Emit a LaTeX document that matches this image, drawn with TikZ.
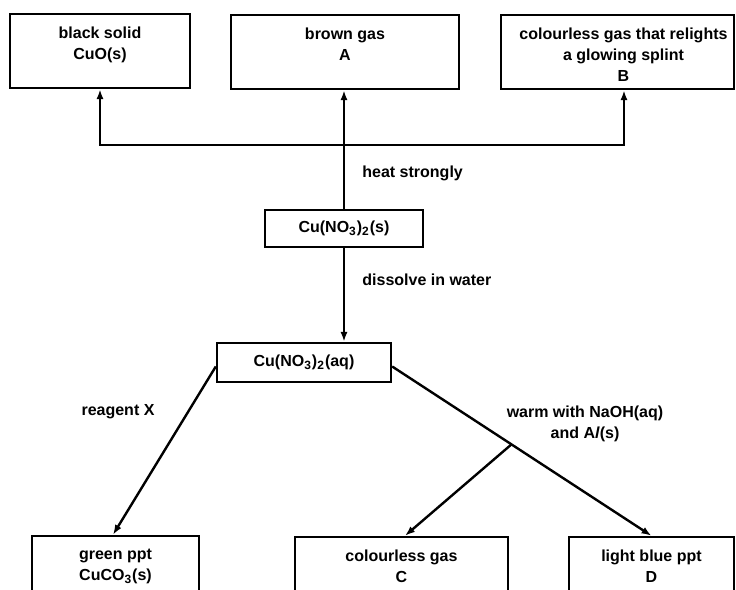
\documentclass[tikz,border=0pt]{standalone}
\usepackage{fontspec}
\setmainfont{Liberation Sans}
\usetikzlibrary{arrows.meta,positioning}

\tikzset{
	box/.style = {draw, line width=1.2pt, inner sep=0pt},
	txt/.style = {align=center, inner sep=0pt, font=\fontsize{8}{10.5}\selectfont\bfseries},
	flow/.style = {line width=1.2pt, -{Latex[length=5pt,width=3.6pt]}},
}

\begin{document}
\begin{tikzpicture}[x=0.5pt, y=-0.5pt]
	\useasboundingbox (0,0) rectangle (736,590);
	\clip (0,0) rectangle (736,590);
	% top row
	\node [box, minimum width=90pt, minimum height=37pt] (cuo) at (100,51) {};
	\node [box, minimum width=114pt, minimum height=37pt] (gasA) at (345,52) {};
	\node [box, minimum width=116.5pt, minimum height=37pt] (gasB) at (617.5,52) {};
	\node [txt, below = 7pt of cuo.north] (cuotxt) {black solid\\CuO(s)};
	\node [txt, below = 7pt of gasA.north] (gasAtxt) {brown gas\\A};
	\node [txt, below = 7pt of gasB.north, xshift=3pt] (gasBtxt) {colourless gas that relights\\a glowing splint\\B};
	% middle
	\node [box, txt, minimum width=79pt, minimum height=18.5pt] (solid) at (344,228.5) {Cu(NO\textsubscript{3})\textsubscript{2}(s)};
	\node [box, txt, minimum width=87pt, minimum height=19.5pt] (aq) at (304,362.5) {Cu(NO\textsubscript{3})\textsubscript{2}(aq)};
	% bottom row
	\node [box, minimum width=83.5pt, minimum height=52pt] (green) at (115.5,588) {};
	\node [box, minimum width=106.5pt, minimum height=52pt] (gasC) at (401.5,589) {};
	\node [box, minimum width=82.5pt, minimum height=52pt] (blue) at (651.5,589) {};
	\node [txt, below = 7pt of green.north] (greentxt) {green ppt\\CuCO\textsubscript{3}(s)};
	\node [txt, below = 7pt of gasC.north] (gasCtxt) {colourless gas\\C};
	\node [txt, below = 7pt of blue.north] (bluetxt) {light blue ppt\\D};
	% labels
	\node [txt, anchor=west] (heat) at (362,173) {heat strongly};
	\node [txt, anchor=west] (water) at (362,280) {dissolve in water};
	\node [txt] (reagX) at (118,412) {reagent X};
	\node [txt] (warm) at (585,424) {warm with NaOH(aq)\\and A\textit{l}(s)};
	% arrows
	\coordinate (join) at (344,145);
	\draw [flow] (solid.north) -- (solid.north |- gasA.south);
	\draw [flow] (join) -| (cuo.south);
	\draw [flow] (join) -| ([xshift=3.25pt]gasB.south);
	\draw [flow] (solid.south) -- (solid.south |- aq.north);
	\draw [flow] ([yshift=-2pt]aq.west) -- ([xshift=-1.25pt]green.north);
	\draw [flow] ([yshift=-2pt]aq.east) -- coordinate[pos=0.46] (fork) (blue.north);
	\draw [flow] (fork) -- ([xshift=1.75pt]gasC.north);
\end{tikzpicture}
\end{document}
